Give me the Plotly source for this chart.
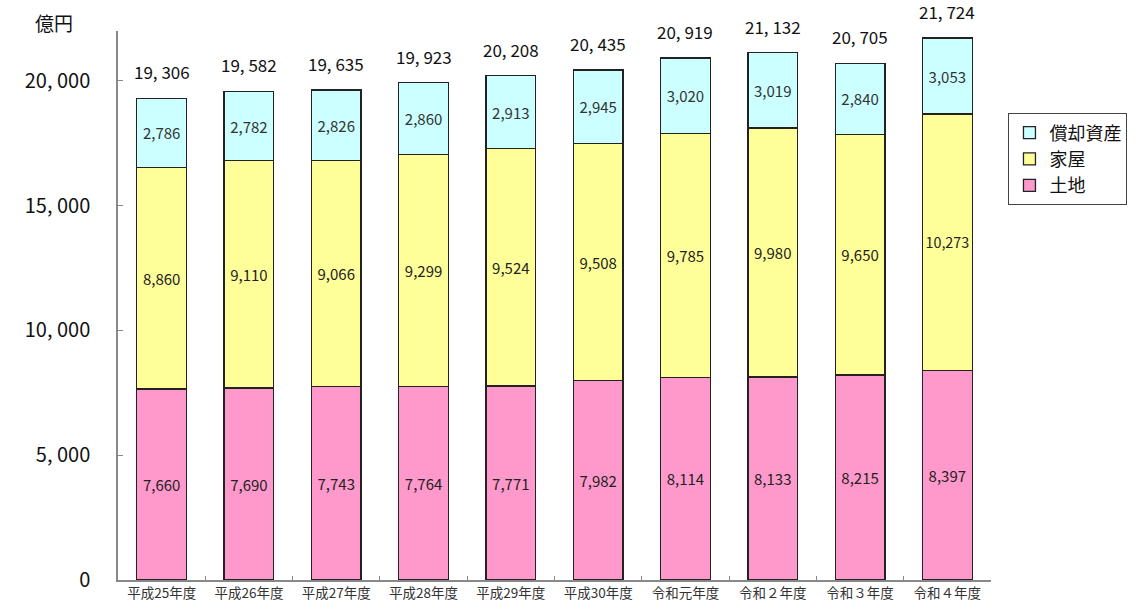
import plotly.graph_objects as go

categories = ["平成25年度", "平成26年度", "平成27年度", "平成28年度", "平成29年度",
              "平成30年度", "令和元年度", "令和２年度", "令和３年度", "令和４年度"]
land = [7660, 7690, 7743, 7764, 7771, 7982, 8114, 8133, 8215, 8397]
house = [8860, 9110, 9066, 9299, 9524, 9508, 9785, 9980, 9650, 10273]
depreciable = [2786, 2782, 2826, 2860, 2913, 2945, 3020, 3019, 2840, 3053]
totals = [19306, 19582, 19635, 19923, 20208, 20435, 20919, 21132, 20705, 21724]
y_ticks = [0, 5000, 10000, 15000, 20000]
y_tick_text = ["0", "5, 000", "10, 000", "15, 000", "20, 000"]

FONT = "Noto Sans CJK JP"
line = dict(color="#222222", width=1.3)

def fmt(v):
    return f"{v:,}"

fig = go.Figure()
fig.add_trace(go.Bar(name="土地", x=categories, y=land, marker=dict(color="#FF99CC", line=line),
                     text=[fmt(v) for v in land], textposition="inside", insidetextanchor="middle",
                     textangle=0, textfont=dict(family=FONT, size=15, color="#222222")))
fig.add_trace(go.Bar(name="家屋", x=categories, y=house, marker=dict(color="#FFFF99", line=line),
                     text=[fmt(v) for v in house], textposition="inside", insidetextanchor="middle",
                     textangle=0, textfont=dict(family=FONT, size=15, color="#222222")))
fig.add_trace(go.Bar(name="償却資産", x=categories, y=depreciable, marker=dict(color="#CCFFFF", line=line),
                     text=[fmt(v) for v in depreciable], textposition="inside", insidetextanchor="middle",
                     textangle=0, textfont=dict(family=FONT, size=15, color="#333333")))

for c, t in zip(categories, totals):
    fig.add_annotation(x=c, y=t, text=fmt(t).replace(",", ", "), showarrow=False,
                       yanchor="bottom", yshift=12,
                       font=dict(family=FONT, size=17, color="#111111"))

fig.add_annotation(xref="paper", yref="paper", x=-0.073, y=1.016, text="億円", showarrow=False,
                   xanchor="center", yanchor="middle", font=dict(family=FONT, size=19, color="#111111"))

fig.update_layout(
    barmode="stack",
    bargap=0.43,
    width=1139, height=613,
    margin=dict(l=118, r=145, t=31, b=33),
    paper_bgcolor="white", plot_bgcolor="white",
    legend=dict(traceorder="reversed", x=1.02, y=0.85, xanchor="left", yanchor="top",
                bordercolor="#444444", borderwidth=1, bgcolor="white",
                font=dict(family=FONT, size=18, color="#111111"),
                itemwidth=30, tracegroupgap=0),
    font=dict(family=FONT),
)
fig.update_yaxes(range=[0, 22000], tickvals=y_ticks, ticktext=y_tick_text,
                 showgrid=False, showline=True, linecolor="#888888", linewidth=1.5,
                 ticks="inside", ticklen=5, tickcolor="#888888",
                 tickfont=dict(family=FONT, size=20, color="#111111"), ticklabelstandoff=22,
                 zeroline=False)
fig.update_xaxes(showgrid=False, showline=True, linecolor="#888888", linewidth=1.5,
                 ticks="inside", tickson="boundaries", ticklen=4, tickcolor="#888888",
                 tickfont=dict(family=FONT, size=13.5, color="#333333"))

fig.write_html("out.html", config={"displayModeBar": False},
               post_script="document.body.style.margin='0';document.body.style.overflow='hidden';")
